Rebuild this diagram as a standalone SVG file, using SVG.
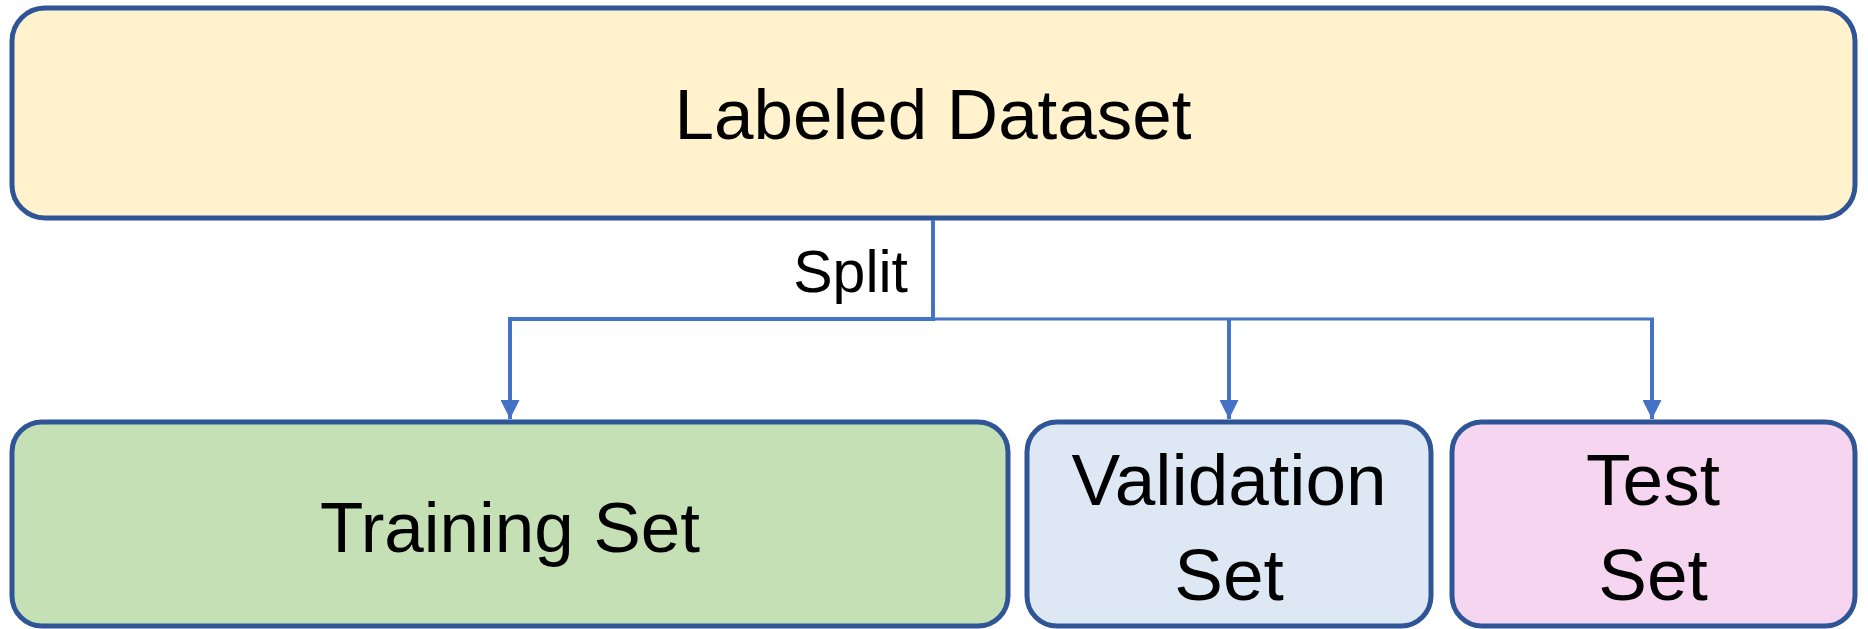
<svg xmlns="http://www.w3.org/2000/svg" width="1868" height="629" viewBox="0 0 1868 629">
<style>
.box{stroke:#2F5597;stroke-width:5}
.lbl{font-family:"Liberation Sans",Arial,sans-serif;fill:#000;text-anchor:middle}
.conn{stroke:#4472C4;fill:none;stroke-linecap:butt;stroke-linejoin:miter}
</style>
<defs>
<marker id="ah" viewBox="0 0 10 10" refX="10" refY="5" markerWidth="19" markerHeight="19" markerUnits="userSpaceOnUse" orient="auto">
<path d="M0,0 L10,5 L0,10 Z" fill="#4472C4"/>
</marker>
</defs>
<rect width="1868" height="629" fill="#fff"/>
<g id="labeled-dataset">
<rect class="box" x="12" y="8" width="1843" height="210" rx="33" fill="#FFF2CC"/>
<text class="lbl" x="933" y="139" font-size="71">Labeled Dataset</text>
</g>
<g id="training-set">
<rect class="box" x="12" y="422" width="996" height="204" rx="30" fill="#C5E0B4"/>
<text class="lbl" x="510" y="552" font-size="71">Training Set</text>
</g>
<g id="validation-set">
<rect class="box" x="1027" y="422" width="404" height="204" rx="30" fill="#DEE8F5"/>
<text class="lbl" x="1229" y="505" font-size="73">Validation</text>
<text class="lbl" x="1229" y="600" font-size="73">Set</text>
</g>
<g id="test-set">
<rect class="box" x="1452" y="422" width="403" height="204" rx="30" fill="#F6D5F1"/>
<text class="lbl" x="1653" y="505" font-size="73">Test</text>
<text class="lbl" x="1653" y="600" font-size="73">Set</text>
</g>
<g id="connectors">
<path class="conn" stroke-width="4" d="M933,220 V321"/>
<path class="conn" stroke-width="4" d="M935,319 H510 V419" marker-end="url(#ah)"/>
<path class="conn" stroke-width="3" d="M933,319 H1654"/>
<path class="conn" stroke-width="4" d="M1229,319 V419" marker-end="url(#ah)"/>
<path class="conn" stroke-width="4" d="M1652,318 V419" marker-end="url(#ah)"/>
<text x="908" y="292" font-size="59" font-family="Liberation Sans, Arial, sans-serif" text-anchor="end" fill="#000">Split</text>
</g>
</svg>
